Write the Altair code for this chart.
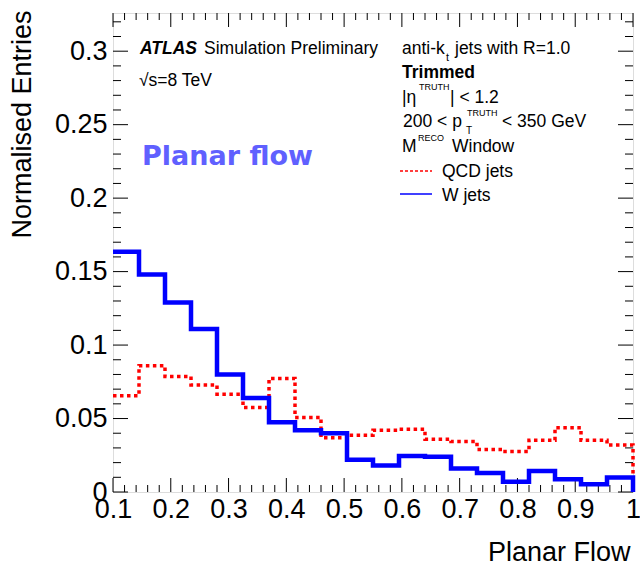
import altair as alt
import pandas as pd

# ---- data ----
bin_low = [0.1, 0.145, 0.19, 0.235, 0.28, 0.325, 0.37, 0.415, 0.46, 0.505,
           0.55, 0.595, 0.64, 0.685, 0.73, 0.775, 0.82, 0.865, 0.91, 0.955]
x_max = 1.0
w_jets = [0.1635, 0.148, 0.129, 0.111, 0.080, 0.064, 0.0475, 0.042, 0.040, 0.022,
          0.018, 0.0245, 0.024, 0.016, 0.013, 0.007, 0.0143, 0.0087, 0.0052, 0.0098]
qcd_jets = [0.0655, 0.086, 0.0786, 0.0729, 0.0666, 0.0575, 0.0772, 0.0507, 0.037, 0.0386,
            0.042, 0.0427, 0.0359, 0.0343, 0.029, 0.0275, 0.0352, 0.0438, 0.0352, 0.032]

x_major = [0.1, 0.2, 0.3, 0.4, 0.5, 0.6, 0.7, 0.8, 0.9, 1.0]
x_minor = [0.12, 0.14, 0.16, 0.18, 0.22, 0.24, 0.26, 0.28, 0.32, 0.34, 0.36, 0.38,
           0.42, 0.44, 0.46, 0.48, 0.52, 0.54, 0.56, 0.58, 0.62, 0.64, 0.66, 0.68,
           0.72, 0.74, 0.76, 0.78, 0.82, 0.84, 0.86, 0.88, 0.92, 0.94, 0.96, 0.98]
y_major = [0, 0.05, 0.1, 0.15, 0.2, 0.25, 0.3]
y_minor = [0.01, 0.02, 0.03, 0.04, 0.06, 0.07, 0.08, 0.09, 0.11, 0.12, 0.13, 0.14,
           0.16, 0.17, 0.18, 0.19, 0.21, 0.22, 0.23, 0.24, 0.26, 0.27, 0.28, 0.29,
           0.31, 0.32]

W, H = 520, 479
OX, OY = 113, 13  # plot origin in page pixels
FONT = "Liberation Sans"


def hist_rows(name, vals):
    rows = []
    for i, (x, v) in enumerate(zip(bin_low, vals)):
        rows.append((name, i, x, v))
    rows.append((name, len(vals), x_max, vals[-1]))
    rows.append((name, len(vals) + 1, x_max, 0.0))
    return rows


hist = pd.DataFrame(hist_rows("QCD jets", qcd_jets) + hist_rows("W jets", w_jets),
                    columns=["series", "order", "x", "y"])

xs = alt.Scale(domain=[0.1, 1.0], nice=False, zero=False)
ys = alt.Scale(domain=[0, 0.326], nice=False, zero=True)

base = alt.Chart(hist)

axis_common = dict(labelFont=FONT, labelFontSize=27, labelColor="black",
                   tickSize=0, domain=False, grid=False, labelOverlap=False,
                   labelFlush=False, labelBound=False, format="~g",
                   titleFont=FONT, titleFontSize=27, titleFontWeight="normal",
                   titleColor="black")

axes_layer = alt.Chart(pd.DataFrame({"x": [0.1], "y": [0.0]})).mark_point(opacity=0).encode(
    x=alt.X("x:Q", scale=xs, axis=alt.Axis(values=x_major, labelPadding=4,
                                           title="Planar Flow", titleAlign="right",
                                           titleBaseline="middle", titleX=517, titleY=60,
                                           **axis_common)),
    y=alt.Y("y:Q", scale=ys, axis=alt.Axis(values=y_major, labelPadding=6,
                                           title="Normalised Entries", titleAngle=-90,
                                           titleAlign="right", titleBaseline="middle",
                                           titleX=-91, titleY=-3, **axis_common)),
)

qcd = base.transform_filter(alt.datum.series == "QCD jets").mark_line(
    interpolate="step-after", color="#ff0000", strokeWidth=3.5,
    strokeDash=[3.5, 3.5], strokeCap="butt").encode(
    x=alt.X("x:Q", scale=xs), y=alt.Y("y:Q", scale=ys), order="order:Q")

wj = base.transform_filter(alt.datum.series == "W jets").mark_line(
    interpolate="step-after", color="#0000ff", strokeWidth=4.5).encode(
    x=alt.X("x:Q", scale=xs), y=alt.Y("y:Q", scale=ys), order="order:Q")


def yticks(vals, length):
    d = alt.Chart(pd.DataFrame({"v": vals}))
    left = d.mark_rule(color="black", strokeWidth=1).encode(
        y=alt.Y("v:Q", scale=ys), x=alt.value(0), x2=alt.value(length))
    right = d.mark_rule(color="black", strokeWidth=1).encode(
        y=alt.Y("v:Q", scale=ys), x=alt.value(W), x2=alt.value(W - length))
    return [left, right]


def xticks(vals, length):
    d = alt.Chart(pd.DataFrame({"v": vals}))
    bottom = d.mark_rule(color="black", strokeWidth=1).encode(
        x=alt.X("v:Q", scale=xs), y=alt.value(H), y2=alt.value(H - length))
    top = d.mark_rule(color="black", strokeWidth=1).encode(
        x=alt.X("v:Q", scale=xs), y=alt.value(0), y2=alt.value(length))
    return [bottom, top]


one = pd.DataFrame({"k": [0]})


def txt(s, x, y, size=17.5, weight="normal", style="normal", color="black",
        font=FONT, baseline="alphabetic"):
    return alt.Chart(one).mark_text(
        text=s, align="left", baseline=baseline, fontSize=size, fontWeight=weight,
        fontStyle=style, color=color, font=font).encode(
        x=alt.value(x - OX), y=alt.value(y - OY))


def seg(x1, x2, y, color, dash=None, width=1.5):
    kw = dict(color=color, strokeWidth=width)
    if dash:
        kw["strokeDash"] = dash
    return alt.Chart(one).mark_rule(**kw).encode(
        x=alt.value(x1 - OX), x2=alt.value(x2 - OX), y=alt.value(y - OY))


texts = [
    txt("ATLAS", 140, 54, weight="bold", style="italic"),
    txt("Simulation Preliminary", 204, 54),
    txt("√s=8 TeV", 139, 86),
    txt("Planar flow", 142, 165, size=27, weight="bold", color="#6060ff",
        font="DejaVu Sans"),
    txt("anti-k", 402, 54),
    txt("t", 446, 61, size=11),
    txt("jets with R=1.0", 455, 54),
    txt("Trimmed", 402, 78, weight="bold"),
    txt("|η", 402, 103),
    txt("TRUTH", 419, 90, size=9),
    txt("| < 1.2", 450, 103),
    txt("200 < p", 403, 127),
    txt("T", 466, 134, size=10),
    txt("TRUTH", 467, 116, size=9),
    txt("< 350 GeV", 502, 127),
    txt("M", 402, 152),
    txt("RECO", 418, 141, size=9),
    txt("Window", 452, 152),
    txt("QCD jets", 442, 177),
    txt("W jets", 442, 201),
    seg(400, 432, 171, "#ff0000", dash=[3, 2]),
    seg(400, 432, 194, "#0000ff"),
]

chart = alt.layer(
    axes_layer,
    *yticks(y_major, 15), *yticks(y_minor, 8),
    *xticks(x_major, 14), *xticks(x_minor, 7),
    qcd, wj,
    *texts,
).properties(
    width=W, height=H,
    autosize=alt.AutoSizeParams(type="none"),
    padding={"left": OX, "top": OY, "right": 640 - OX - W, "bottom": 570 - OY - H},
).configure_view(stroke="black", strokeWidth=1.2).configure(background="white")

chart.save("out.html", embed_options={"renderer": "svg", "actions": False})
